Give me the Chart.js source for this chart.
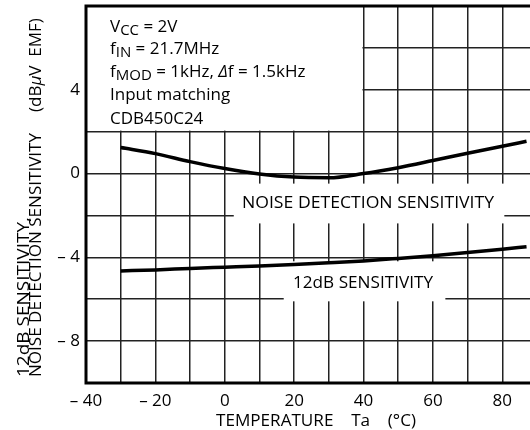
<!DOCTYPE html>
<html><head><meta charset="utf-8">
<script src="https://cdn.jsdelivr.net/npm/chart.js@4.4.1/dist/chart.umd.min.js"></script>
<style>html,body{margin:0;padding:0;background:#fff}canvas{display:block}</style>
</head><body>
<canvas id="c" width="530" height="430"></canvas>
<script>
// ---- data ----
const tempX = [-30, -20, -10, 0, 10, 20, 30, 40, 50, 60, 70, 80, 87];
const noiseDetection = [1.24, 0.95, 0.57, 0.24, -0.02, -0.17, -0.2, 0, 0.28, 0.62, 0.97, 1.3, 1.54];
const sens12dB = [-4.65, -4.6, -4.53, -4.47, -4.41, -4.34, -4.26, -4.17, -4.05, -3.92, -3.77, -3.61, -3.49];
const xGrid = [-40, -30, -20, -10, 0, 10, 20, 30, 40, 50, 60, 70, 80];
const xTickValues = [-40, -20, 0, 20, 40, 60, 80];
const xTickLabels = ['\u2013 40', '\u2013 20', '0', '20', '40', '60', '80'];
const yGrid = [-10, -8, -6, -4, -2, 0, 2, 4, 6, 8];
const yTickValues = [-8, -4, 0, 4];
const yTickLabels = ['\u2013 8', '\u2013 4', '0', '4'];
const seriesLabels = ['NOISE DETECTION SENSITIVITY', '12dB SENSITIVITY'];
const xTitle = 'TEMPERATURE    Ta    (\u00B0C)';
const yTitle1 = '12dB SENSITIVITY,';
const yTitle2 = 'NOISE DETECTION SENSITIVITY';

const FONT = '"Open Sans", "DejaVu Sans", sans-serif';

function drawRich(ctx, parts, x, y) {
  let cx = x;
  for (const p of parts) {
    ctx.font = (p.it ? 'italic ' : '') + (p.sub ? 15 : 17) + 'px ' + FONT;
    ctx.fillText(p.t, cx, y + (p.sub ? 3 : 0));
    cx += ctx.measureText(p.t).width;
  }
}
// draw text stretched horizontally to a given width
function fitText(ctx, text, x, y, width, align) {
  const w = ctx.measureText(text).width;
  const sx = width / w;
  ctx.save();
  ctx.translate(x, y);
  ctx.scale(sx, 1);
  ctx.textAlign = align;
  ctx.fillText(text, 0, 0);
  ctx.restore();
}

const deco = {
  id: 'deco',
  beforeDatasetsDraw(chart) {
    const { ctx, scales: { x, y } } = chart;
    ctx.save();
    ctx.fillStyle = '#fff';
    const rect = (x0, x1, y0, y1) => {
      const px0 = x.getPixelForValue(x0), px1 = x.getPixelForValue(x1);
      const py0 = y.getPixelForValue(y0), py1 = y.getPixelForValue(y1);
      ctx.fillRect(Math.min(px0, px1), Math.min(py0, py1), Math.abs(px1 - px0), Math.abs(py1 - py0));
    };
    rect(-40, 39.7, 8, 2.05);          // conditions box
    rect(2.6, 80.6, -0.48, -2.38);     // noise detection label
    rect(17, 63.6, -4.19, -6.1);       // 12dB label
    ctx.restore();
  },
  afterDraw(chart) {
    const { ctx, chartArea: a } = chart;
    ctx.save();
    // frame
    ctx.strokeStyle = '#000';
    ctx.lineWidth = 3;
    ctx.beginPath();
    ctx.moveTo(a.right + 2, a.top);
    ctx.lineTo(a.left, a.top);
    ctx.lineTo(a.left, a.bottom);
    ctx.lineTo(a.right + 2, a.bottom);
    ctx.stroke();

    ctx.fillStyle = '#000';
    ctx.textBaseline = 'alphabetic';
    ctx.textAlign = 'left';
    // conditions
    const tx = 110;
    drawRich(ctx, [{ t: 'V' }, { t: 'CC', sub: true }, { t: ' = 2V' }], tx, 32);
    drawRich(ctx, [{ t: 'f' }, { t: 'IN', sub: true }, { t: ' = 21.7MHz' }], tx, 54);
    drawRich(ctx, [{ t: 'f' }, { t: 'MOD', sub: true }, { t: ' = 1kHz, ' }, { t: '\u0394', it: true }, { t: 'f = 1.5kHz' }], tx, 77);
    drawRich(ctx, [{ t: 'Input matching' }], tx, 100);
    drawRich(ctx, [{ t: 'CDB450C24' }], tx, 124);

    // series labels
    ctx.font = '17px ' + FONT;
    fitText(ctx, seriesLabels[0], 368, 208, 252, 'center');
    fitText(ctx, seriesLabels[1], 363, 288, 140, 'center');

    // x title
    fitText(ctx, xTitle, 316, 425.5, 200, 'center');

    // y titles (rotated)
    ctx.save();
    ctx.translate(28.5, 377);
    ctx.rotate(-Math.PI / 2);
    fitText(ctx, yTitle1, 0, 0, 160, 'left');
    ctx.restore();
    ctx.save();
    ctx.translate(40.5, 377);
    ctx.rotate(-Math.PI / 2);
    fitText(ctx, yTitle2, 0, 0, 244, 'left');
    ctx.restore();
    // unit with italic mu
    ctx.save();
    ctx.translate(40.5, 112);
    ctx.rotate(-Math.PI / 2);
    ctx.textAlign = 'left';
    let cx = 0;
    const parts = [{ t: '(dB' }, { t: '\u03BC', it: true }, { t: 'V  EMF)' }];
    for (const p of parts) {
      ctx.font = (p.it ? 'italic ' : '') + '17px ' + FONT;
      ctx.fillText(p.t, cx, 0);
      cx += ctx.measureText(p.t).width;
    }
    ctx.restore();
    ctx.restore();
  }
};

new Chart(document.getElementById('c'), {
  type: 'line',
  data: {
    datasets: [
      { data: tempX.map((t, i) => ({ x: t, y: noiseDetection[i] })) },
      { data: tempX.map((t, i) => ({ x: t, y: sens12dB[i] })) }
    ].map(d => Object.assign(d, {
      borderColor: '#000', borderWidth: 3.5, pointRadius: 0, fill: false,
      cubicInterpolationMode: 'monotone'
    }))
  },
  options: {
    responsive: false,
    devicePixelRatio: 1,
    animation: false,
    events: [],
    layout: { padding: { top: 6, right: 0, left: 0, bottom: 0 } },
    plugins: { legend: { display: false }, tooltip: { enabled: false } },
    scales: {
      x: {
        type: 'linear', min: -40, max: 88,
        afterBuildTicks: s => { s.ticks = xGrid.map(v => ({ value: v })); },
        afterFit: s => { s.height = 47; s.paddingLeft = 0; s.paddingRight = 0; },
        ticks: {
          autoSkip: false, maxRotation: 0, minRotation: 0, padding: 8, color: '#000',
          font: { family: FONT, size: 17 },
          callback: v => { const i = xTickValues.indexOf(v); return i >= 0 ? xTickLabels[i] : ''; }
        },
        grid: { color: '#222', lineWidth: 1.5, drawTicks: false },
        border: { display: false }
      },
      y: {
        type: 'linear', min: -10, max: 8,
        afterBuildTicks: s => { s.ticks = yGrid.map(v => ({ value: v })); },
        afterFit: s => { s.width = 86; s.paddingTop = 0; s.paddingBottom = 0; },
        ticks: {
          autoSkip: false, padding: 6, color: '#000',
          font: { family: FONT, size: 17 },
          callback: v => { const i = yTickValues.indexOf(v); return i >= 0 ? yTickLabels[i] : ''; }
        },
        grid: { color: '#222', lineWidth: 1.5, drawTicks: false },
        border: { display: false }
      }
    }
  },
  plugins: [deco]
});
</script>
</body></html>
